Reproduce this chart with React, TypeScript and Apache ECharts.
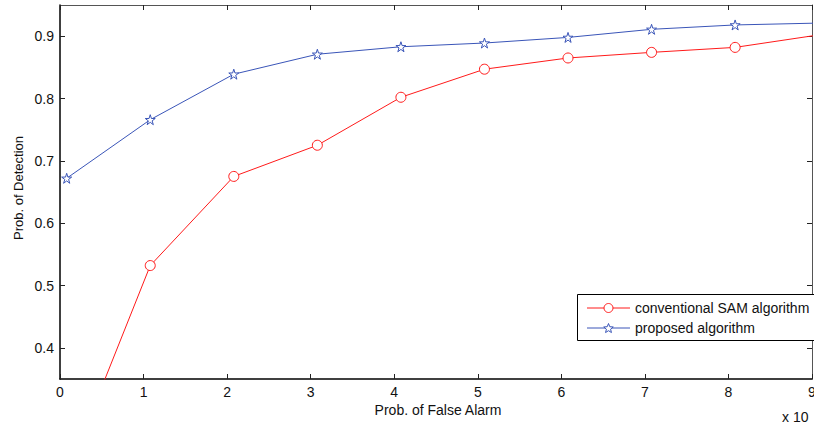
import React, { useEffect, useRef } from "react";
import * as echarts from "echarts";

const xValues = [0.08, 1.08, 2.08, 3.08, 4.08, 5.08, 6.08, 7.08, 8.08, 9.08];
const conventional = [0.196, 0.532, 0.675, 0.725, 0.802, 0.847, 0.865, 0.874, 0.882, 0.902];
const proposed = [0.672, 0.766, 0.839, 0.871, 0.883, 0.889, 0.898, 0.911, 0.918, 0.921];
const yTicks = [0.4, 0.5, 0.6, 0.7, 0.8, 0.9];
const seriesNames = ["conventional SAM algorithm", "proposed algorithm"];

const RED = "#ff1a1a";
const BLUE = "#3a55b8";
const STAR = "path://M50,0 L61.8,36.2 L100,36.2 L69.1,58.6 L80.9,95.1 L50,72.7 L19.1,95.1 L30.9,58.6 L0,36.2 L38.2,36.2 Z";
const FONT = "Liberation Sans, Arial, sans-serif";

function starPoints(cx: number, cy: number, ro: number, ri: number) {
  const pts: number[][] = [];
  for (let k = 0; k < 10; k++) {
    const r = k % 2 === 0 ? ro : ri;
    const a = -Math.PI / 2 + (k * Math.PI) / 5;
    pts.push([cx + r * Math.cos(a), cy + r * Math.sin(a)]);
  }
  return pts;
}

export default function App() {
  const ref = useRef<HTMLDivElement>(null);
  useEffect(() => {
    if (!ref.current) return;
    const chart = echarts.init(ref.current, null, { renderer: "svg" });
    const pairs = (ys: number[]) => xValues.map((x, i) => [x, ys[i]]);
    const tickCommon = { show: true, inside: true, length: 5, lineStyle: { color: "#222", width: 1 } };
    const redItem = { color: "#fff", borderColor: RED, borderWidth: 1 };
    const blueItem = { color: "#fff", borderColor: BLUE, borderWidth: 1 };
    const lgX = 577;
    const lgY = 294;
    const row1 = 308;
    const row2 = 328;
    const symX = 608.5;
    chart.setOption({
      animation: false,
      backgroundColor: "#fff",
      textStyle: { fontFamily: FONT },
      grid: { left: 60, top: 5, right: 2, bottom: 48, containLabel: false, outerBoundsMode: "none" },
      xAxis: [
        {
          type: "value",
          min: 0,
          max: 9,
          interval: 1,
          position: "bottom",
          axisLine: { show: true, onZero: false, lineStyle: { color: "#000", width: 1.5 } },
          axisTick: tickCommon,
          splitLine: { show: false },
          axisLabel: { fontFamily: FONT, fontSize: 14, color: "#111", margin: 6 },
        },
        {
          type: "value",
          min: 0,
          max: 9,
          interval: 1,
          position: "top",
          axisLine: { show: true, onZero: false, lineStyle: { color: "#555", width: 1 } },
          axisTick: tickCommon,
          splitLine: { show: false },
          axisLabel: { show: false },
        },
      ],
      yAxis: [
        {
          type: "value",
          min: 0.35,
          max: 0.95,
          position: "left",
          axisLine: { show: true, onZero: false, lineStyle: { color: "#000", width: 1.5 } },
          axisTick: { ...tickCommon, customValues: yTicks },
          splitLine: { show: false },
          axisLabel: {
            fontFamily: FONT,
            fontSize: 14,
            color: "#111",
            margin: 6,
            customValues: yTicks,
            formatter: (v: number) => v.toFixed(1),
          },
        },
        {
          type: "value",
          min: 0.35,
          max: 0.95,
          position: "right",
          axisLine: { show: true, onZero: false, lineStyle: { color: "#555", width: 1 } },
          axisTick: { ...tickCommon, customValues: yTicks },
          splitLine: { show: false },
          axisLabel: { show: false },
        },
      ],
      series: [
        {
          name: seriesNames[0],
          type: "line",
          data: pairs(conventional),
          symbol: "circle",
          symbolSize: 10,
          showAllSymbol: true,
          clip: true,
          lineStyle: { color: RED, width: 1 },
          itemStyle: redItem,
        },
        {
          name: seriesNames[1],
          type: "line",
          data: pairs(proposed),
          symbol: STAR,
          symbolSize: 10,
          showAllSymbol: true,
          clip: true,
          lineStyle: { color: BLUE, width: 1 },
          itemStyle: blueItem,
        },
      ],
      graphic: [
        {
          type: "rect",
          z: 100,
          shape: { x: lgX + 0.5, y: lgY + 0.5, width: 260, height: 46 },
          style: { fill: "#fff", stroke: "#000", lineWidth: 1 },
        },
        {
          type: "line",
          z: 101,
          shape: { x1: 587, y1: row1, x2: 630, y2: row1 },
          style: { stroke: RED, lineWidth: 1 },
        },
        {
          type: "circle",
          z: 102,
          shape: { cx: symX, cy: row1, r: 4.5 },
          style: { fill: "#fff", stroke: RED, lineWidth: 1 },
        },
        {
          type: "line",
          z: 101,
          shape: { x1: 587, y1: row2, x2: 630, y2: row2 },
          style: { stroke: BLUE, lineWidth: 1 },
        },
        {
          type: "polygon",
          z: 102,
          shape: { points: starPoints(symX, row2 + 0.5, 5, 2.2) },
          style: { fill: "#fff", stroke: BLUE, lineWidth: 1 },
        },
        {
          type: "text",
          z: 102,
          x: 635,
          y: row1,
          style: { text: seriesNames[0], fontFamily: FONT, fontSize: 14, fill: "#111", align: "left", verticalAlign: "middle" },
        },
        {
          type: "text",
          z: 102,
          x: 635,
          y: row2,
          style: { text: seriesNames[1], fontFamily: FONT, fontSize: 14, fill: "#111", align: "left", verticalAlign: "middle" },
        },
        {
          type: "text",
          x: 18,
          y: 188,
          rotation: Math.PI / 2,
          style: {
            text: "Prob. of Detection",
            fontFamily: FONT,
            fontSize: 13,
            fill: "#111",
            align: "center",
            verticalAlign: "middle",
          },
        },
        {
          type: "text",
          x: 438,
          y: 410,
          style: {
            text: "Prob. of False Alarm",
            fontFamily: FONT,
            fontSize: 14,
            fill: "#111",
            align: "center",
            verticalAlign: "middle",
          },
        },
        {
          type: "text",
          x: 782,
          y: 417,
          style: {
            text: "x 10",
            fontFamily: FONT,
            fontSize: 14,
            fill: "#111",
            align: "left",
            verticalAlign: "middle",
          },
        },
      ],
    });
    return () => chart.dispose();
  }, []);
  return (
    <div
      ref={ref}
      style={{ position: "fixed", left: 0, top: 0, width: 814, height: 427, background: "#fff" }}
    />
  );
}
